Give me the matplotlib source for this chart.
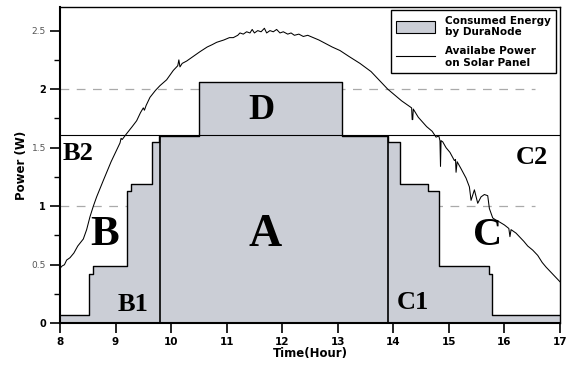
import matplotlib
matplotlib.use("Agg")
import matplotlib.pyplot as plt
from matplotlib.patches import Patch
from matplotlib.lines import Line2D

# consumed power of the node (step function, value holds until next time)
load_t = [8.0, 8.52, 8.6, 9.2, 9.28, 9.65, 9.78, 10.5, 13.07, 13.9, 14.12, 14.63, 14.83, 15.73, 15.78, 17.0]
load_p = [0.07, 0.42, 0.49, 1.13, 1.19, 1.55, 1.60, 2.06, 1.60, 1.55, 1.19, 1.13, 0.49, 0.42, 0.07, 0.07]

# available power on the solar panel
solar_t = [8.0, 8.04, 8.08, 8.12, 8.18, 8.25, 8.32, 8.42, 8.48, 8.54, 8.6, 8.66, 8.72, 8.78,
           8.85, 8.92, 8.96, 9.02, 9.08, 9.1, 9.12, 9.2, 9.3, 9.38, 9.45, 9.5, 9.52, 9.55,
           9.62, 9.72, 9.8, 9.92, 10.04, 10.12, 10.14, 10.16, 10.2, 10.28, 10.4, 10.52,
           10.65, 10.74, 10.82, 10.95, 11.05, 11.12, 11.2, 11.24, 11.3, 11.36, 11.42,
           11.46, 11.5, 11.56, 11.62, 11.68, 11.72, 11.78, 11.84, 11.9, 11.96, 12.02,
           12.1, 12.16, 12.22, 12.3, 12.38, 12.46, 12.56, 12.66, 12.78, 12.9, 13.04,
           13.2, 13.4, 13.6, 13.76, 13.9, 14.0, 14.15, 14.3, 14.33, 14.34, 14.35, 14.36,
           14.45, 14.6, 14.7, 14.77, 14.82, 14.84, 14.85, 14.86, 14.89, 14.95, 15.02,
           15.1, 15.12, 15.13, 15.15, 15.22, 15.31, 15.37, 15.4, 15.46, 15.52, 15.58,
           15.64, 15.7, 15.73, 15.79, 15.85, 15.91, 16.0, 16.08, 16.1, 16.12, 16.21,
           16.35, 16.42, 16.51, 16.6, 16.68, 16.75, 16.85, 16.93, 17.0]
solar_p = [0.47, 0.49, 0.5, 0.54, 0.56, 0.6, 0.66, 0.72, 0.8, 0.91, 1.0, 1.08, 1.15, 1.22,
           1.3, 1.38, 1.42, 1.48, 1.54, 1.58, 1.57, 1.62, 1.68, 1.73, 1.8, 1.84, 1.82, 1.86,
           1.93, 1.99, 2.03, 2.08, 2.16, 2.2, 2.25, 2.19, 2.22, 2.24, 2.28, 2.32,
           2.36, 2.38, 2.4, 2.42, 2.44, 2.44, 2.46, 2.48, 2.47, 2.49, 2.48,
           2.51, 2.48, 2.5, 2.49, 2.52, 2.48, 2.5, 2.49, 2.51, 2.48, 2.49,
           2.47, 2.48, 2.46, 2.47, 2.45, 2.46, 2.44, 2.42, 2.39, 2.36, 2.33,
           2.28, 2.22, 2.15, 2.07, 2.0, 1.96, 1.9, 1.85, 1.84, 1.74, 1.74, 1.83,
           1.76, 1.68, 1.64, 1.59, 1.6, 1.56, 1.34, 1.56, 1.55, 1.5, 1.46,
           1.39, 1.4, 1.29, 1.38, 1.32, 1.24, 1.165, 1.05, 1.14, 1.025, 1.08,
           1.1, 1.09, 0.98, 0.9, 0.88, 0.866, 0.84, 0.81, 0.74, 0.8, 0.77,
           0.7, 0.66, 0.625, 0.58, 0.52, 0.48, 0.43, 0.39, 0.355]

boundary_t = [9.8, 13.9]   # edges of region A
threshold = 1.61           # B2 / C2 line
grid_levels = [1.0, 2.0]

region_labels = ["A", "D", "B", "C", "B1", "B2", "C1", "C2"]
region_x = [11.69, 11.63, 8.81, 15.7, 9.32, 8.33, 14.35, 16.5]
region_y = [0.75, 1.82, 0.75, 0.75, 0.16, 1.45, 0.18, 1.42]
region_size = [33, 26, 31, 29, 19, 19, 19, 19]

fill_color = "#cbced6"

fig = plt.figure(figsize=(5.74, 3.71), dpi=100)
ax = fig.add_axes([0.1045, 0.1286, 0.871, 0.852])

ax.hlines(grid_levels, 8.0, 16.55, colors="#aaaaaa", linestyles=(0, (7, 6)), lw=0.9, zorder=1)
ax.fill_between(load_t, load_p, 0, step="post", color=fill_color, lw=0, zorder=2)
ax.step(load_t, load_p, where="post", color="black", lw=1.0, zorder=3)
ax.vlines(boundary_t, 0, threshold, colors="black", lw=1.2, zorder=3)
ax.axhline(threshold, color="black", lw=0.8, zorder=3)
ax.plot(solar_t, solar_p, color="black", lw=0.75, zorder=4)

for lab, x, y, s in zip(region_labels, region_x, region_y, region_size):
    ax.text(x, y, lab, fontsize=s, fontweight="bold", family="Liberation Serif",
            ha="center", va="center", zorder=5)

ax.set_xlim(8, 17)
ax.set_ylim(0, 2.7)
ax.set_xticks(range(8, 18))
ax.set_yticks([0, 0.5, 1, 1.5, 2, 2.5])
ax.set_yticks([0.25, 0.75, 1.25, 1.75, 2.25], minor=True)
ax.set_yticklabels(["0", "0.5", "1", "1.5", "2", "2.5"])
for i, t in enumerate(ax.get_yticklabels()):
    if i % 2 == 0:
        t.set_fontweight("bold")
        t.set_fontsize(7)
    else:
        t.set_color("#555555")
        t.set_fontsize(6.5)
for t in ax.get_xticklabels():
    t.set_fontweight("bold")
    t.set_fontsize(7.5)
ax.tick_params(axis="both", which="major", direction="out", length=7, width=1.2, pad=3)
ax.tick_params(axis="y", which="minor", direction="out", length=4, width=1.0)

for side in ["left", "bottom"]:
    ax.spines[side].set_linewidth(1.5)
for side in ["top", "right"]:
    ax.spines[side].set_linewidth(1.0)

ax.set_xlabel("Time(Hour)", fontsize=8.5, fontweight="bold", labelpad=0)
ax.set_ylabel("Power (W)", fontsize=8.5, fontweight="bold", labelpad=3)

handles = [Patch(facecolor=fill_color, edgecolor="black", lw=0.8),
           Line2D([], [], color="black", lw=0.8)]
ax.legend(handles, ["Consumed Energy\nby DuraNode", "Availabe Power\non Solar Panel"],
          loc="upper right", bbox_to_anchor=(0.992, 0.99), borderaxespad=0,
          fancybox=False, edgecolor="black", framealpha=1,
          prop={"weight": "bold", "size": 7.5}, handlelength=3.8, handleheight=1.5,
          labelspacing=0.85, borderpad=0.5, handletextpad=0.9)

fig.savefig("out.png", dpi=100)
